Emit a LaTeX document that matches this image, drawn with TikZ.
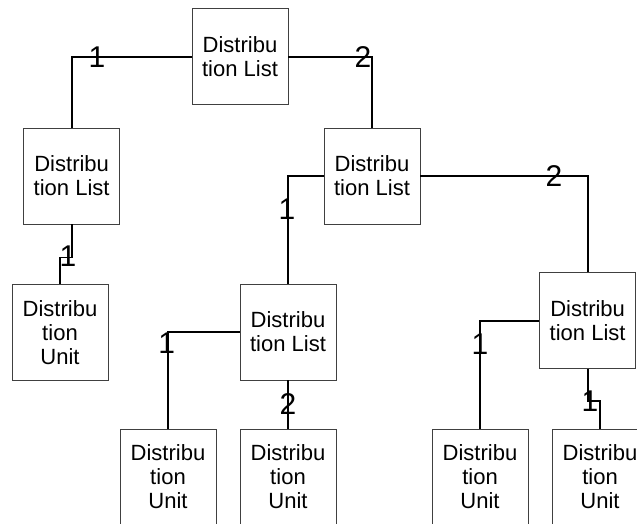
\documentclass[tikz,border=0pt]{standalone}
\usepackage{fontspec}
\setmainfont{Liberation Sans}
\usepackage{tikz}
\usetikzlibrary{positioning, calc}

\begin{document}
\begin{tikzpicture}[
    listbox/.style={draw=black!75, line width=0.8pt, minimum width=2.88cm, minimum height=2.88cm, align=center, inner sep=0pt, font=\fontsize{18.8}{20.5}\selectfont},
    link/.style={draw, line width=1.6pt},
    mult/.style={font=\fontsize{25.6}{26}\selectfont, inner sep=0pt}
]
    \useasboundingbox (0,0) rectangle (19.11,-15.69);
    \clip (0,0) rectangle (19.11,-15.69);

    % lists
    \node[listbox] (la) at (7.2,-1.7) {Distribu\\tion List};
    \node[listbox] (lb) at (2.15,-5.28) {Distribu\\tion List};
    \node[listbox] (lc) at (11.16,-5.28) {Distribu\\tion List};
    \node[listbox] (ld) at (8.64,-9.96) {Distribu\\tion List};
    \node[listbox] (le) at (17.63,-9.62) {Distribu\\tion List};

    % units
    \node[listbox] (ua) at (1.8,-9.98) {Distribu\\tion\\Unit};
    \node[listbox] (ub) at (5.04,-14.31) {Distribu\\tion\\Unit};
    \node[listbox] (uc) at (8.64,-14.31) {Distribu\\tion\\Unit};
    \node[listbox] (ud) at (14.4,-14.31) {Distribu\\tion\\Unit};
    \node[listbox] (ue) at (18.0,-14.31) {Distribu\\tion\\Unit};

    \draw[link] (la.west) -| (lb.north);
    \draw[link] (la.east) -| (lc.north);
    \draw[link] (lb.south) -- ++(0,-0.99) -| (ua.north);
    \draw[link] (lc.west) -| (ld.north);
    \draw[link] (lc.east) -| (le.north);
    \draw[link] (ld.west) -| (ub.north);
    \draw[link] (ld.south) -- (uc.north);
    \draw[link] (le.west) -| (ud.north);
    \draw[link] (le.south) -- ++(0,-0.96) -| (ue.north);

    \node[mult] (m1) at (2.91,-1.71) {1};
    \node[mult] (m2) at (10.89,-1.71) {2};
    \node[mult] (m3) at (2.04,-7.68) {1};
    \node[mult] (m4) at (8.61,-6.27) {1};
    \node[mult] (m5) at (16.62,-5.28) {2};
    \node[mult] (m6) at (5.0,-10.29) {1};
    \node[mult] (m7) at (8.64,-12.12) {2};
    \node[mult] (m8) at (14.4,-10.32) {1};
    \node[mult] (m9) at (17.7,-12.03) {1};
\end{tikzpicture}
\end{document}
